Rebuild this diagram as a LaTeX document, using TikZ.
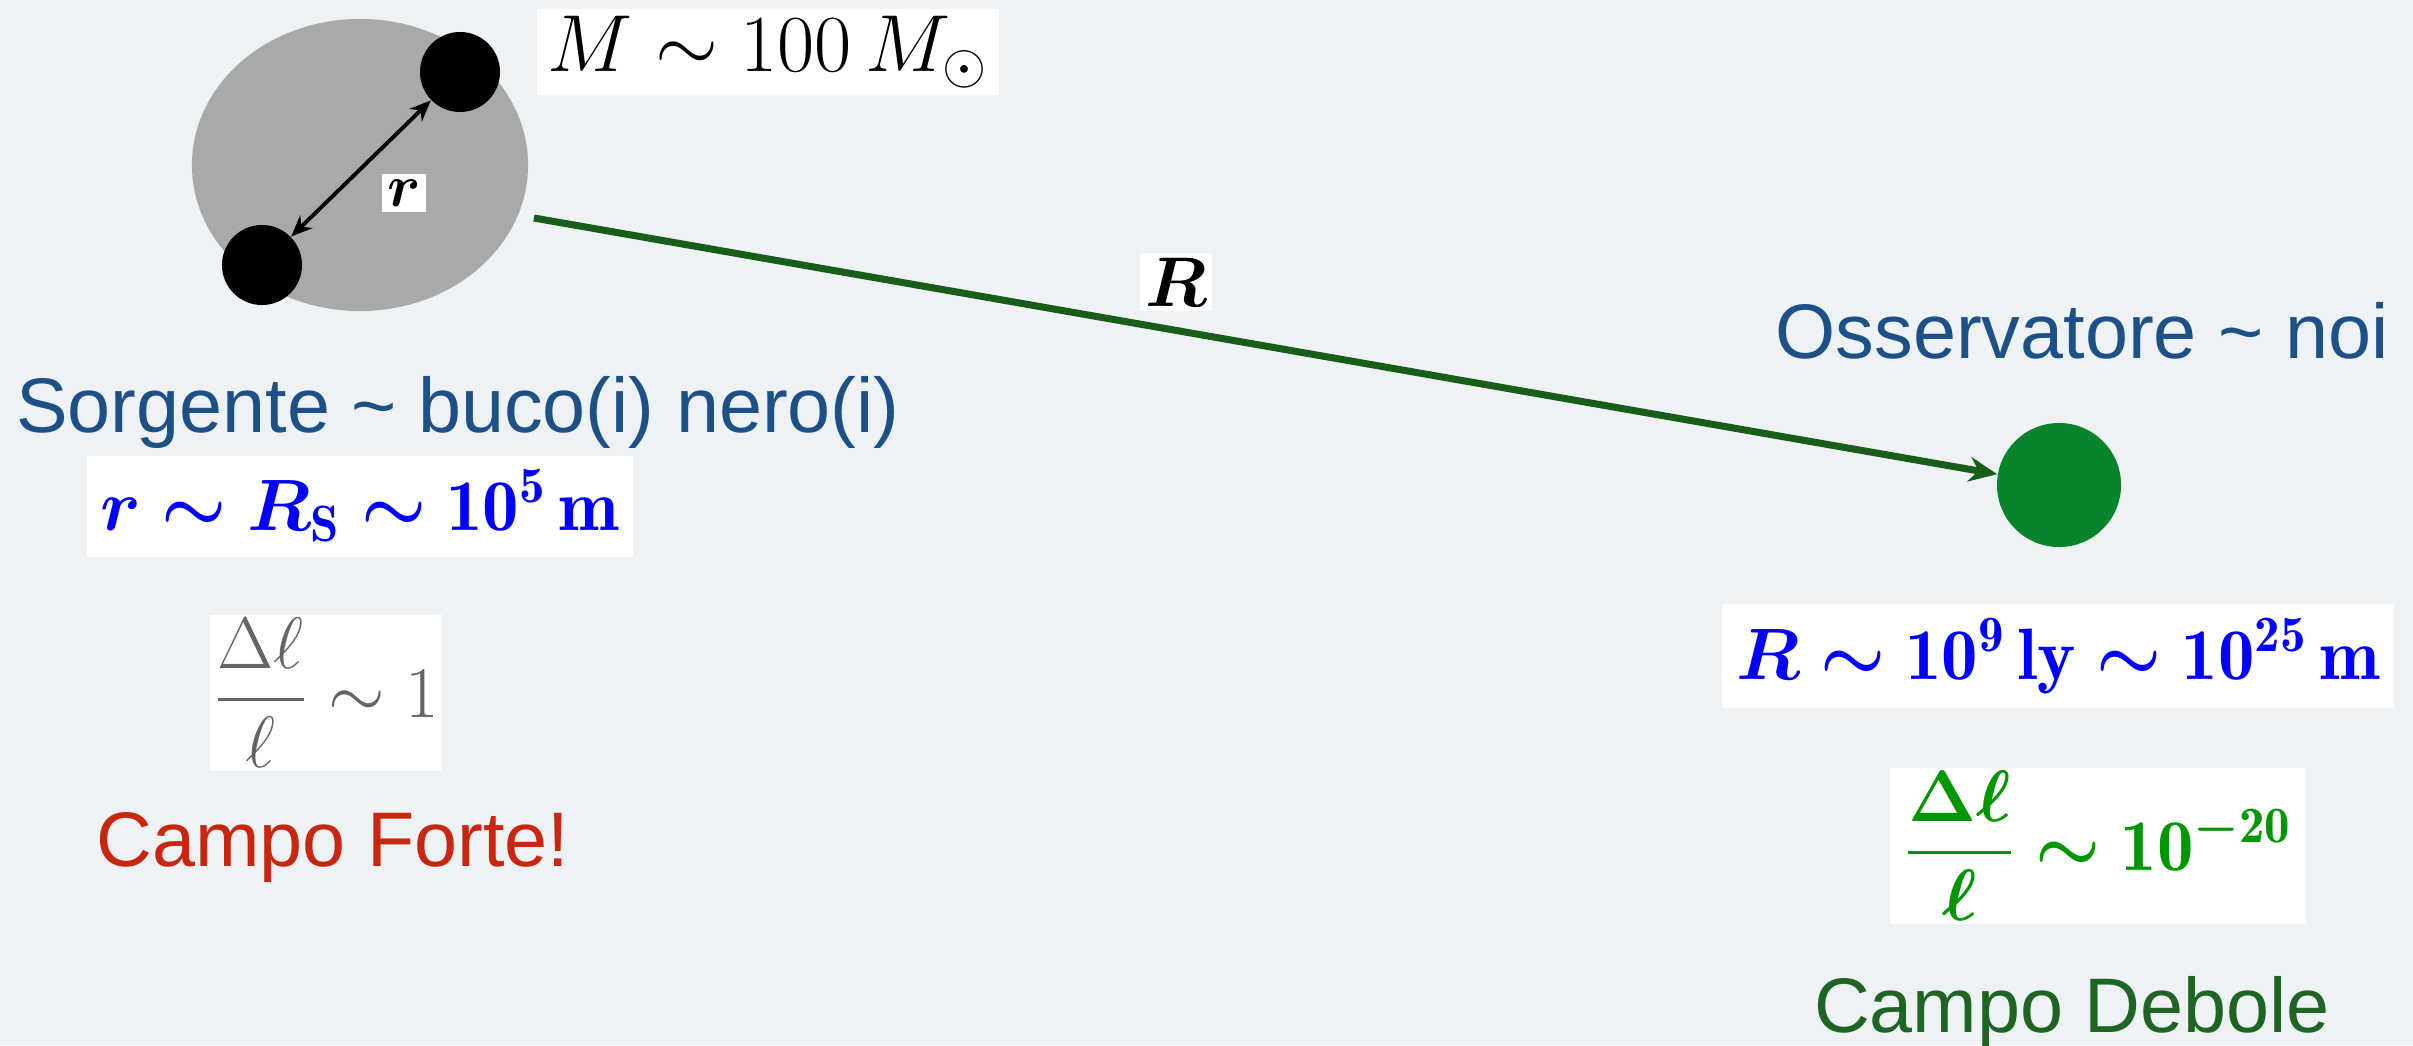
\RequirePackage{fix-cm}
\documentclass[tikz,border=0pt]{standalone}
\usepackage{fontspec}
\usepackage{amsmath}
\usepackage{amssymb}
\usetikzlibrary{positioning, arrows.meta, shapes.geometric}
\newfontfamily\arialfont{Liberation Sans}
\definecolor{bgcol}{RGB}{238,242,245}
\definecolor{holegray}{RGB}{167,170,169}
\definecolor{titleblue}{RGB}{29,80,135}
\definecolor{fortered}{RGB}{200,38,14}
\definecolor{debolegreen}{RGB}{30,100,34}
\definecolor{linegreen}{RGB}{24,94,26}
\definecolor{obsgreen}{RGB}{8,132,44}
\definecolor{ratiogreen}{RGB}{0,150,0}
\definecolor{ratiogray}{RGB}{100,100,100}

\begin{document}
\begin{tikzpicture}[
    x=0.01cm, y=-0.01cm,
    lbl/.style={font=\arialfont\fontsize{22}{26}\selectfont, inner sep=0pt},
    eqbox/.style={fill=white, inner sep=4pt, font=\fontsize{20.7}{24}\selectfont},
    fracbox/.style={fill=white, inner sep=1pt, font=\fontsize{20.7}{24}\selectfont},
    hole/.style={circle, fill=black, minimum size=0.8cm, inner sep=0pt},
    arr/.style={-{Stealth[length=8pt, width=7pt]}, line width=2pt}
]
    \useasboundingbox (0,0) rectangle (2413,1045);
    \fill[bgcol] (0,0) rectangle (2413,1045);

    % Source: binary black hole
    \node[ellipse, fill=holegray, minimum width=3.36cm, minimum height=2.92cm] (src) at (360,165) {};
    \node[hole] (bhA) at (460,72) {};
    \node[hole] (bhB) at (262,265) {};
    \draw[{Stealth[length=6pt, width=5pt]}-{Stealth[length=6pt, width=5pt]}, line width=1.1pt] (bhB) -- (bhA);
    \node[fill=white, inner sep=1.5pt, font=\fontsize{17}{20}\selectfont] (rlab) at (404,193) {$\boldsymbol{r}$};
    \node[eqbox, inner xsep=3pt, inner ysep=2pt, font=\fontsize{23}{26}\selectfont] (mass) at (768,52) {$M \sim 100\, M_{\odot}$};

    % Observer
    \node[circle, fill=obsgreen, minimum size=1.24cm, inner sep=0pt] (obs) at (2059,485) {};
    \coordinate (lineStart) at (534,218);
    \draw[arr, linegreen] (lineStart) -- (obs);
    \node[fill=white, inner sep=1.5pt, font=\fontsize{20}{24}\selectfont] (Rlab) at (1176,282) {$\boldsymbol{R}$};

    % Left column
    \node[lbl, text=titleblue] (srcname) at (458,412) {Sorgente \textasciitilde{} buco(i) nero(i)};
    \node[eqbox, text=blue] (rsize) at (360,506) {$\boldsymbol{r} \boldsymbol{\sim} \boldsymbol{R}_{\mathbf{S}} \boldsymbol{\sim} \mathbf{10}^{\mathbf{5}}\,\mathbf{m}$};
    \node[fracbox, text=ratiogray] (ratioA) at (326,693) {$\dfrac{\Delta\ell}{\ell} \sim 1$};
    \node[lbl, text=fortered] (forte) at (333,847) {Campo Forte!};

    % Right column
    \node[lbl, text=titleblue] (obsname) at (2082,331) {Osservatore \textasciitilde{} noi};
    \node[eqbox, text=blue] (Rsize) at (2058,656) {$\boldsymbol{R} \boldsymbol{\sim} \mathbf{10}^{\mathbf{9}}\,\mathbf{ly} \boldsymbol{\sim} \mathbf{10}^{\mathbf{25}}\,\mathbf{m}$};
    \node[fracbox, text=ratiogreen, inner xsep=4pt] (ratioB) at (2098,846) {$\dfrac{\boldsymbol{\Delta\ell}}{\boldsymbol{\ell}} \boldsymbol{\sim} \mathbf{10}^{\boldsymbol{-}\mathbf{20}}$};
    \node[lbl, text=debolegreen] (debole) at (2072,1012) {Campo Debole};
\end{tikzpicture}
\end{document}
